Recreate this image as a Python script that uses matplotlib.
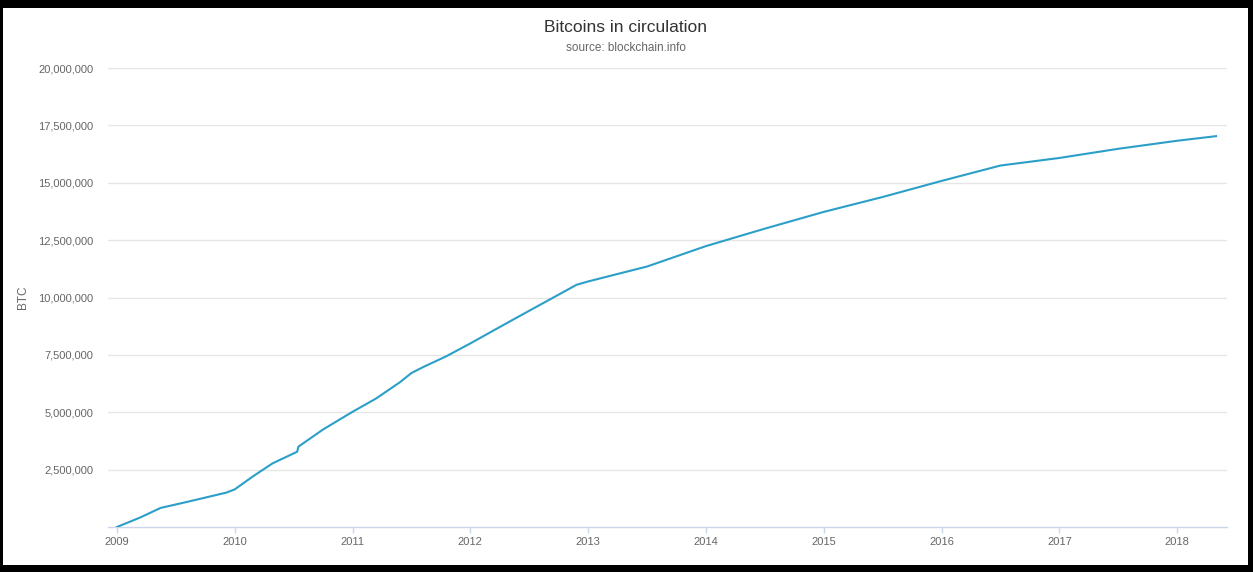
import matplotlib
matplotlib.use("Agg")
import matplotlib.pyplot as plt
from matplotlib.patches import Rectangle
from matplotlib.ticker import FuncFormatter

# Data (decimal years, BTC in circulation)
years = [2009.0, 2009.2, 2009.37, 2009.6, 2009.93, 2010.0, 2010.15, 2010.32, 2010.53, 2010.54,
         2010.75, 2011.0, 2011.2, 2011.4, 2011.5, 2011.6, 2011.8, 2012.0, 2012.35, 2012.9,
         2013.0, 2013.5, 2014.0, 2014.5, 2015.0, 2015.5, 2016.0, 2016.5, 2017.0, 2017.5,
         2018.0, 2018.33]
btc = [0, 420000, 830000, 1100000, 1500000, 1640000, 2190000, 2770000, 3280000, 3500000,
       4250000, 5020000, 5600000, 6300000, 6710000, 6970000, 7450000, 8000000, 9000000, 10550000,
       10700000, 11350000, 12240000, 13000000, 13730000, 14380000, 15080000, 15750000, 16080000, 16480000,
       16830000, 17030000]
x_ticks = list(range(2009, 2019))
y_ticks = [2500000, 5000000, 7500000, 10000000, 12500000, 15000000, 17500000, 20000000]

plt.rcParams['font.family'] = ['Liberation Sans', 'DejaVu Sans']

W, H = 1253, 572
fig = plt.figure(figsize=(W / 100, H / 100), dpi=100, facecolor='black')
fig.patches.append(Rectangle((3 / W, 1 - 565 / H), (1248 - 3) / W, (565 - 8) / H,
                             transform=fig.transFigure, facecolor='white', edgecolor='none', zorder=-5))

ax = fig.add_axes([108 / W, 1 - 527 / H, (1227 - 108) / W, (527 - 68) / H])
ax.set_facecolor('none')
ax.plot(years, btc, color='#2b9fc8', lw=1.5, solid_joinstyle='round', zorder=3)

ax.set_xlim(2008.924, 2018.423)
ax.set_ylim(0, 20000000)
ax.set_yticks(y_ticks)
ax.yaxis.set_major_formatter(FuncFormatter(lambda v, p: f"{int(v):,}"))
ax.set_xticks(x_ticks)
ax.set_xticklabels([str(y) for y in x_ticks])

ax.grid(axis='y', color='#e6e6e6', lw=1)
for s in ['top', 'right', 'left']:
    ax.spines[s].set_visible(False)
ax.spines['bottom'].set_color('#ccd6eb')
ax.spines['bottom'].set_linewidth(1)
ax.tick_params(axis='y', length=0, pad=10.5, labelsize=8, labelcolor='#666666')
ax.tick_params(axis='x', length=4, width=1, color='#ccd6eb', pad=3, labelsize=8, labelcolor='#666666')

ax.set_ylabel('BTC', fontsize=8.5, color='#666666')
ax.yaxis.set_label_coords(-(108 - 29) / (1227 - 108), 0.5)

fig.text(626 / W, 1 - 27 / H, 'Bitcoins in circulation', ha='center', va='center',
         fontsize=12.5, color='#333333')
fig.text(626 / W, 1 - 48 / H, 'source: blockchain.info', ha='center', va='center',
         fontsize=8.5, color='#666666')

fig.savefig('out.png', dpi=100, facecolor='black')
